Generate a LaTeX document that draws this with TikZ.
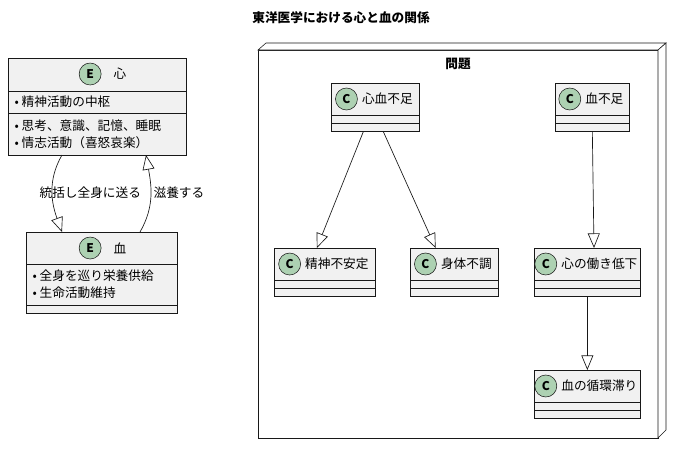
\documentclass[tikz,border=0pt]{standalone}
\usepackage{fontspec}
\setmainfont{Noto Sans CJK JP}
\usetikzlibrary{arrows.meta, positioning, calc}
\definecolor{boxbg}{HTML}{F1F1F1}
\definecolor{edge}{HTML}{181818}
\definecolor{spot}{HTML}{ADD1B2}
\tikzset{box/.style={rectangle, draw=edge, fill=boxbg, inner sep=0pt, line width=0.5pt},
	spotc/.style={circle, draw=edge, fill=spot, minimum size=16.5pt, inner sep=0pt, font=\bfseries\small},
	lbl/.style={font=\fontsize{9.5}{10}\selectfont, inner sep=1pt},
	item/.style={lbl, anchor=west},
	rel/.style={draw=edge, line width=0.5pt, -{Triangle[open, length=11pt, width=9pt]}}}
% class box: name, left, top, width, label
\newcommand{\umlcls}[5]{%
	\node[box, minimum width=#4*0.75pt, minimum height=36pt, anchor=north west] (#1) at (#2,#3) {};
	\draw[edge] ([yshift=-24pt]#1.north west) -- ([yshift=-24pt]#1.north east);
	\draw[edge] ([yshift=-30pt]#1.north west) -- ([yshift=-30pt]#1.north east);
	\node[lbl] (#1t) at ([xshift=9pt, yshift=-12pt]#1.north) {#5};
	\node[spotc, left=2pt of #1t] {C};}
\begin{document}
\begin{tikzpicture}[x=0.75pt, y=-0.75pt]
\useasboundingbox (0,0) rectangle (682,454);
\node[font=\bfseries\fontsize{9.5}{10}\selectfont] (title) at (341,18) {東洋医学における心と血の関係};
% entities
\node[box, minimum width=178*0.75pt, minimum height=97*0.75pt, anchor=north west] (xin) at (8,58) {};
\draw[edge] (8,91) -- (186,91);
\draw[edge] (8,113) -- (186,113);
\node[lbl] (xint) at (120,74) {心};
\node[spotc, left=8pt of xint] {E};
\node[item] at (13,102) {• 精神活動の中枢};
\node[item] at (13,126) {• 思考、意識、記憶、睡眠};
\node[item] at (13,143) {• 情志活動（喜怒哀楽）};
\node[box, minimum width=151*0.75pt, minimum height=81*0.75pt, anchor=north west] (xue) at (26,232) {};
\draw[edge] (26,264) -- (177,264);
\draw[edge] (26,305) -- (177,305);
\node[lbl] (xuet) at (120,248) {血};
\node[spotc, left=8pt of xuet] {E};
\node[item] at (31,276) {• 全身を巡り栄養供給};
\node[item] at (31,293) {• 生命活動維持};
\coordinate (a1) at (62,155);
\coordinate (a2) at (62,232);
\coordinate (b1) at (140,232);
\coordinate (b2) at (146,155);
\draw[rel] (a1) to[out=-120, in=110] (a2);
\draw[rel] (b1) to[out=60, in=-80] (b2);
\node[lbl, anchor=west] (l1) at (38,193) {統括し全身に送る};
\node[lbl, anchor=west] (l2) at (152,193) {滋養する};
% package
\node[box, fill=white, minimum width=400*0.75pt, minimum height=388*0.75pt, anchor=north west] (pkg) at (258,50) {};
\draw[edge, fill=white] (258,50) -- (266,43) -- (666,43) -- (658,50) -- cycle;
\draw[edge, fill=white] (658,50) -- (666,43) -- (666,430) -- (658,438) -- cycle;
\node[font=\bfseries\fontsize{9.5}{10}\selectfont] at (458,64) {問題};
\umlcls{shinketsu}{331}{83}{88}{心血不足}
\umlcls{ketsu}{555}{83}{74}{血不足}
\umlcls{seishin}{274}{248}{101}{精神不安定}
\umlcls{shintai}{410}{248}{88}{身体不調}
\umlcls{hataraki}{534}{248}{106}{心の働き低下}
\umlcls{junkan}{534}{370}{106}{血の循環滞り}
\draw[rel] ([xshift=-9pt]shinketsu.south) -- ([xshift=-6pt]seishin.north);
\draw[rel] ([xshift=6pt]shinketsu.south) -- ([xshift=-14pt]shintai.north);
\draw[rel] (ketsu.south) -- ([xshift=5pt]hataraki.north);
\draw[rel] (hataraki.south) -- (junkan.north);
\end{tikzpicture}
\end{document}
